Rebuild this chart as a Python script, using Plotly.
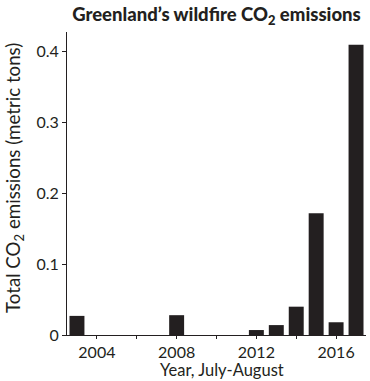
import plotly.graph_objects as go

years = list(range(2003, 2018))
emissions = [0.027, 0, 0, 0, 0, 0.028, 0, 0, 0, 0.007, 0.014, 0.040, 0.172, 0.018, 0.410]
tick_vals = [2004, 2008, 2012, 2016]
tick_text = ["2004", "2008", "2012", "2016"]
minor_tick_vals = [2006, 2010, 2014]

fig = go.Figure(go.Bar(x=years, y=emissions, marker_color="#231f20", marker_line_width=0))

font = "Lato, 'Open Sans', sans-serif"
dark = "#231f20"
fig.update_layout(
    width=370, height=381,
    margin=dict(l=67, r=4, t=32, b=46),
    paper_bgcolor="white", plot_bgcolor="white",
    bargap=0.25,
    showlegend=False,
    font=dict(family=font, color=dark, size=16),
    title=dict(text="Greenland’s wildfire CO<sub>2</sub> emissions",
               x=0.585, xanchor="center", y=0.962, yanchor="middle",
               font=dict(size=18.5, family=font, color=dark, weight=900)),
    xaxis=dict(range=[2002.5, 2017.5], tickvals=tick_vals, ticktext=tick_text,
               showline=True, linecolor=dark, linewidth=1,
               ticks="outside", ticklen=3, tickcolor=dark,
               minor=dict(tickvals=minor_tick_vals, ticks="outside", ticklen=3,
                          tickcolor=dark, showgrid=False),
               showgrid=False, zeroline=False,
               tickfont=dict(size=16)),
    yaxis=dict(range=[0, 0.428], tickvals=[0, 0.1, 0.2, 0.3, 0.4],
               ticktext=["0", "0.1", "0.2", "0.3", "0.4"],
               showline=True, linecolor=dark, linewidth=1,
               ticks="outside", ticklen=4, tickcolor=dark,
               showgrid=False, zeroline=False,
               tickfont=dict(size=16)),
    annotations=[
        dict(text="Year, July-August", xref="paper", yref="paper",
             x=(222 - 67) / 299, y=-(369.5 - 335) / 303, xanchor="center", yanchor="middle",
             showarrow=False, font=dict(size=16.5, family=font, color=dark)),
        dict(text="Total CO<sub>2</sub> emissions (metric tons)", xref="paper", yref="paper",
             x=(15 - 67) / 299, y=(335 - 178) / 303, xanchor="center", yanchor="middle",
             textangle=-90, showarrow=False, font=dict(size=18.7, family=font, color=dark)),
    ],
)

fig.write_html("out.html",
               config={"displayModeBar": False, "staticPlot": True},
               post_script="document.body.style.margin='0';document.body.style.overflow='hidden';")
